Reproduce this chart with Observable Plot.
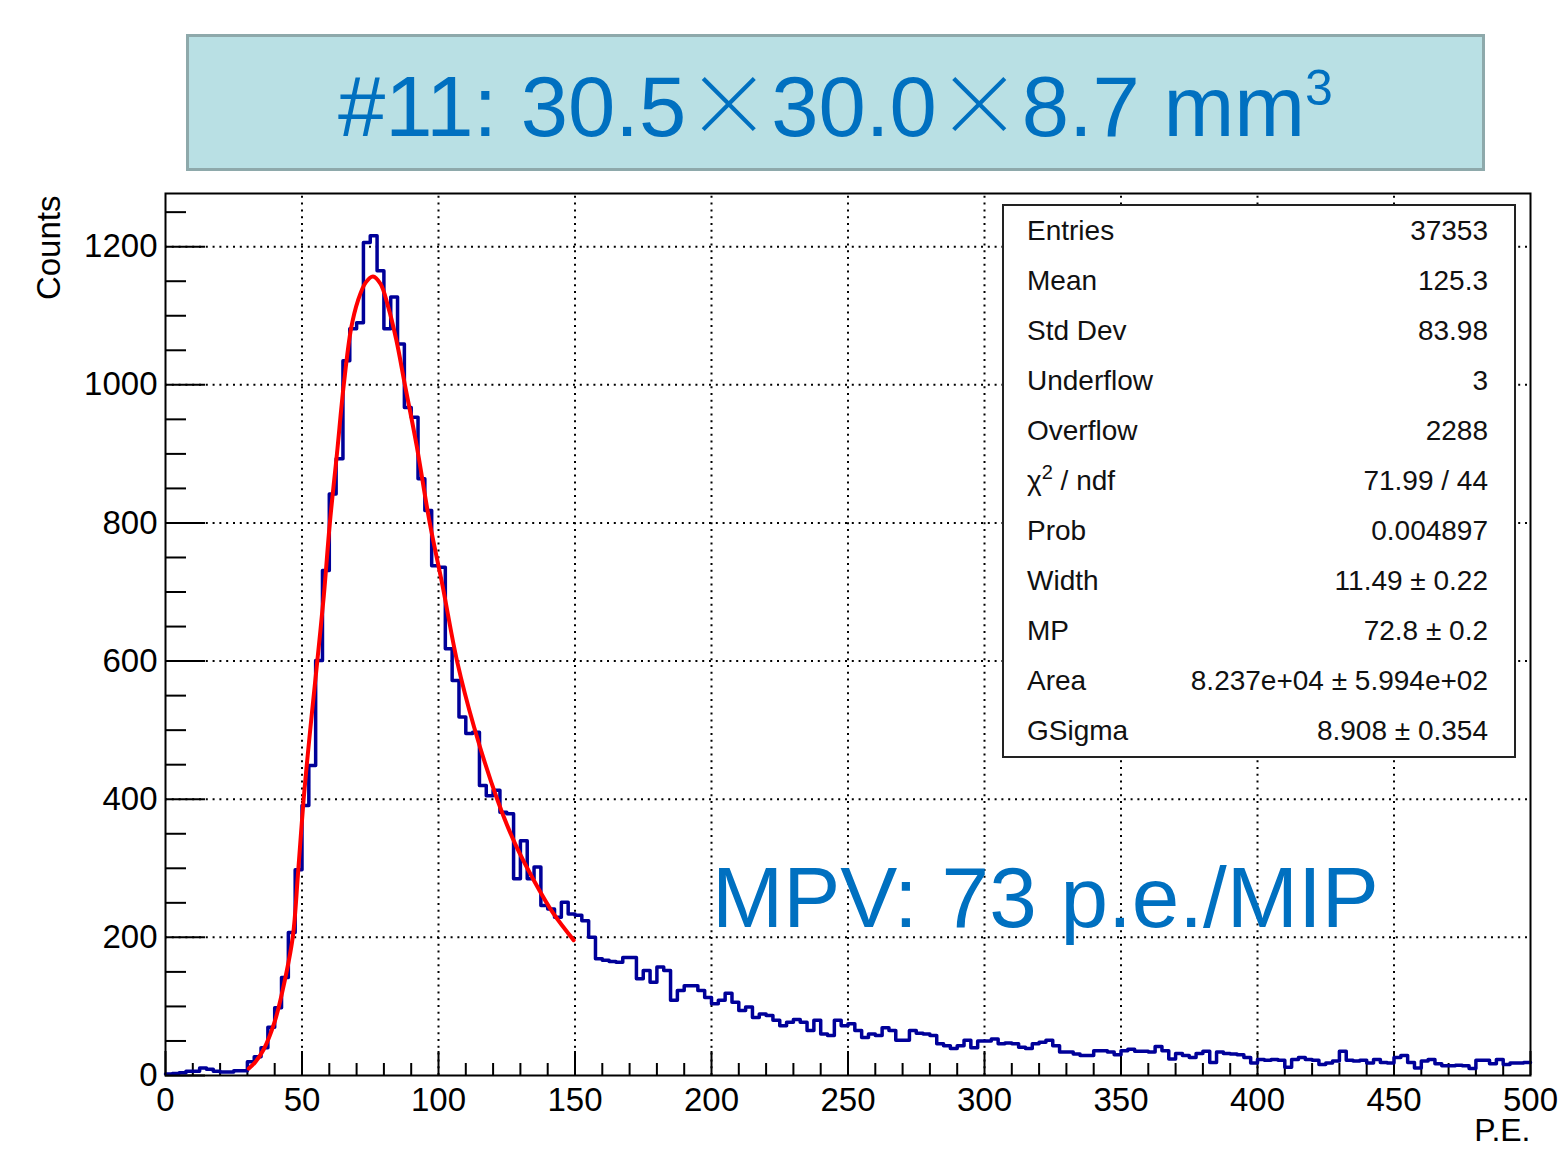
<!DOCTYPE html>
<html>
<head>
<meta charset="utf-8">
<script src="https://cdn.jsdelivr.net/npm/d3@7"></script>
<script src="https://cdn.jsdelivr.net/npm/@observablehq/plot@0.6"></script>
<style>
  html, body { margin: 0; padding: 0; background: #fff; }
  #wrap { position: relative; width: 1559px; height: 1152px; overflow: hidden; font-family: "Liberation Sans", Arial, Helvetica, sans-serif; }
  #chart { position: absolute; left: 0; top: 0; }
  #title { position: absolute; left: 186px; top: 34px; width: 1299px; height: 137px; box-sizing: border-box;
           border: 3px solid #8ea9ab; background: #b9e0e4; }
  #titleText { position: absolute; left: 0; right: 0; top: 12px; text-align: center; white-space: nowrap;
               color: #0070c0; font-size: 85px; line-height: 100px; }
  #titleText .x { font-family: "Noto Sans CJK JP", "Noto Sans CJK SC", sans-serif; font-weight: 300; }
  #titleText sup { font-size: 50px; position: relative; top: 14px; vertical-align: top; line-height: 50px; }
  #stats { position: absolute; left: 1002px; top: 204px; width: 514px; height: 554px; box-sizing: border-box;
           border: 2px solid #222; background: #fff; color: #111; font-size: 28px; }
  #stats .row { position: absolute; left: 0; right: 0; height: 50px; line-height: 50px; }
  #stats .k { position: absolute; left: 23px; }
  #stats .v { position: absolute; right: 26px; white-space: nowrap; }
  #stats sup { font-size: 20px; position: relative; top: -11px; vertical-align: baseline; line-height: 0; }
  #mpv { position: absolute; left: 712px; top: 848px; color: #0070c0; font-size: 85.5px; line-height: 100px; white-space: nowrap; }
</style>
</head>
<body>
<div id="wrap">
  <div id="chart"></div>
  <div id="title"><div id="titleText"></div></div>
  <div id="stats"></div>
  <div id="mpv"></div>
</div>
<script>
// ---------------- data ----------------
const titleParts = ["#11: 30.5", "×", "30.0", "×", "8.7 mm", "3"];
const mpvLabel = "MPV: 73 p.e./MIP";
const xTitle = "P.E.";
const yTitle = "Counts";

// histogram: 200 bins, 0..500, width 2.5
const binLow = 0;
const binWidth = 2.5;
const binCounts = [
  2, 3, 4, 6, 6, 11, 9, 6, 5, 5, 7, 7,
  20, 27, 40, 70, 98, 142, 207, 298, 391, 449, 601,
  731, 842, 893, 1035, 1081, 1090, 1206, 1216, 1165, 1081, 1127, 1059, 967, 953, 864, 818, 738, 736, 618,
  572, 519, 495, 497, 420, 405, 413, 381, 379, 285, 340, 285, 302, 246, 241, 229, 251, 234, 232, 224,
  200, 169, 167, 165, 164, 171, 171, 140, 152, 135, 157, 152, 109, 123, 130, 130, 123, 113, 104, 109,
  119, 106, 94, 99, 84, 89, 87, 80, 72, 77, 81, 77, 65, 80, 60, 58, 80, 72, 75, 65,
  55, 60, 58, 69, 65, 51, 51, 65, 61, 60, 58, 46, 43, 39, 43, 51, 40, 50, 50, 53,
  46, 47, 46, 41, 39, 46, 48, 51, 43, 34, 34, 31, 29, 29, 36, 36, 34, 30, 36, 38,
  35, 35, 34, 42, 36, 24, 32, 29, 26,
  32, 35, 19, 34, 32, 31, 30, 26, 18, 23, 22, 23, 22, 12, 23, 26, 23, 22, 16, 18,
  21, 35, 22, 21, 22, 18, 23, 19, 18, 26, 29, 19, 11, 21, 23, 17, 14, 14, 15, 14,
  10, 22, 22, 17, 23, 16, 18, 18, 19
];

// fitted Landau (x) Gauss curve
const fitX = [30.5, 33, 36, 40, 43, 46.6, 48.5, 50.6, 53, 55.6, 58, 60.2, 62.8, 65.3, 68, 70.5, 73.3, 76, 78.8, 81.5, 84.5, 87.7, 92, 96.8, 101.5, 106.8, 113, 121.5, 128, 135, 142, 149.5];
const fitY = [10, 20, 38, 78, 125, 200, 290, 400, 500, 600, 695, 800, 900, 1000, 1082, 1122, 1148, 1157, 1146, 1114, 1066, 1000, 912, 800, 709, 600, 505, 400, 336, 282, 235, 196];

// axes
const xDomain = [0, 500];
const yDomain = [0, 1277];
const xTickLabels = [0, 50, 100, 150, 200, 250, 300, 350, 400, 450, 500];
const yTickLabels = [0, 200, 400, 600, 800, 1000, 1200];
const xMinorTicks = d3.range(0, 501, 10).filter(v => v % 50 !== 0);
const yMinorTicks = d3.range(50, 1277, 50).filter(v => v % 200 !== 0);

// statistics box
const statKeys = ["Entries", "Mean", "Std Dev", "Underflow", "Overflow", "χ2 / ndf", "Prob", "Width", "MP", "Area", "GSigma"];
const statVals = ["37353", "125.3", "83.98", "3", "2288", "71.99 / 44", "0.004897", "11.49 ± 0.22", "72.8 ± 0.2", "8.237e+04 ± 5.994e+02", "8.908 ± 0.354"];

// ---------------- build ----------------
const W = 1559, H = 1152;
const mL = 165, mR = 29, mT = 193, mB = 77;
const plotW = W - mL - mR, plotH = H - mT - mB;
const ux = (xDomain[1] - xDomain[0]) / plotW;  // data units per px (x)
const uy = (yDomain[1] - yDomain[0]) / plotH;  // data units per px (y)

const hist = binCounts.map((c, i) => ({x: binLow + i * binWidth, y: c}));
hist.push({x: binLow + binCounts.length * binWidth, y: binCounts[binCounts.length - 1]});
const fit = fitX.map((x, i) => ({x, y: fitY[i]}));

const dots = "2,4.8";
const chart = Plot.plot({
  width: W, height: H,
  marginLeft: mL, marginRight: mR, marginTop: mT, marginBottom: mB,
  x: {domain: xDomain},
  y: {domain: yDomain},
  style: {fontFamily: "'Liberation Sans', Arial, Helvetica, sans-serif", fontSize: "33px", color: "#000", background: "transparent", overflow: "visible"},
  marks: [
    Plot.ruleX(xTickLabels.slice(1, -1), {y1: yDomain[0], y2: yDomain[1], stroke: "#000", strokeWidth: 2, strokeDasharray: dots}),
    Plot.ruleY(yTickLabels.slice(1), {x1: xDomain[0], x2: xDomain[1], stroke: "#000", strokeWidth: 2, strokeDasharray: dots}),
    Plot.ruleX(xMinorTicks, {y1: 0, y2: 12 * uy, stroke: "#000", strokeWidth: 2}),
    Plot.ruleX(xTickLabels, {y1: 0, y2: 24 * uy, stroke: "#000", strokeWidth: 2}),
    Plot.ruleY(yMinorTicks, {x1: 0, x2: 21 * ux, stroke: "#000", strokeWidth: 2}),
    Plot.ruleY(yTickLabels, {x1: 0, x2: 40 * ux, stroke: "#000", strokeWidth: 2}),
    Plot.line(hist, {x: "x", y: "y", curve: "step-after", stroke: "#000099", strokeWidth: 3.5}),
    Plot.line(fit, {x: "x", y: "y", curve: "catmull-rom", stroke: "#ff0000", strokeWidth: 4}),
    Plot.frame({stroke: "#000", strokeWidth: 2}),
    Plot.axisX({ticks: xTickLabels, tickFormat: d => String(d), tickSize: 0, tickPadding: 12, fontSize: 33, label: null}),
    Plot.axisY({ticks: yTickLabels, tickFormat: d => String(d), tickSize: 0, tickPadding: 8, fontSize: 33, label: null}),
    Plot.text([yTitle], {text: d => d, frameAnchor: "top-left", rotate: -90, textAnchor: "end", lineAnchor: "middle", dx: -116, dy: 2, fontSize: 33}),
    Plot.text([xTitle], {text: d => d, frameAnchor: "bottom-right", textAnchor: "end", lineAnchor: "top", dy: 43, fontSize: 32})
  ]
});
document.getElementById("chart").appendChild(chart);

// title
const tt = document.getElementById("titleText");
tt.innerHTML = "";
titleParts.forEach((p, i) => {
  let el;
  if (i === titleParts.length - 1) { el = document.createElement("sup"); }
  else { el = document.createElement("span"); if (p === "×") el.className = "x"; }
  el.textContent = p;
  tt.appendChild(el);
});

// stats
const st = document.getElementById("stats");
statKeys.forEach((k, i) => {
  const row = document.createElement("div");
  row.className = "row";
  row.style.top = (i * 50) + "px";
  const kd = document.createElement("span");
  kd.className = "k";
  if (k.startsWith("χ2")) { kd.innerHTML = "χ<sup>2</sup>" + k.slice(2); }
  else kd.textContent = k;
  const vd = document.createElement("span");
  vd.className = "v";
  vd.textContent = statVals[i];
  row.appendChild(kd); row.appendChild(vd);
  st.appendChild(row);
});

document.getElementById("mpv").textContent = mpvLabel;
</script>
</body>
</html>
